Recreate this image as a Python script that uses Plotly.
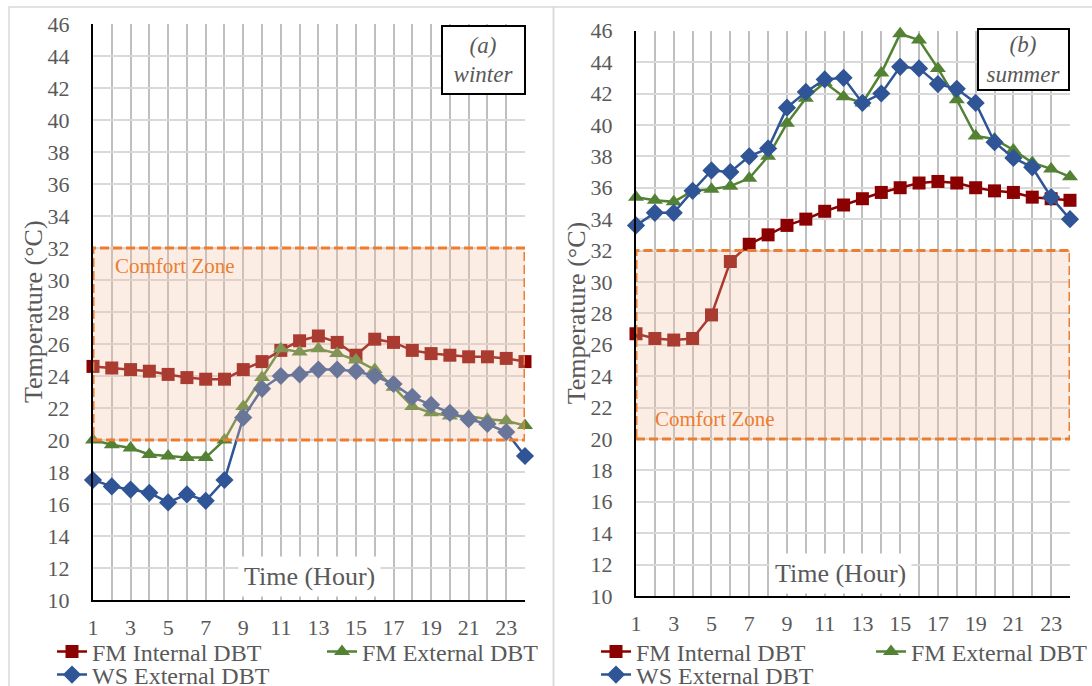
import plotly.graph_objects as go

# ---- data -------------------------------------------------------------
hours = list(range(1, 25))
x_tick_text = [str(h) if h % 2 else "" for h in hours]
y_ticks = list(range(10, 47, 2))

series_names = ["FM Internal DBT", "FM External DBT", "WS External DBT"]

winter_fm_internal = [24.6, 24.5, 24.4, 24.3, 24.1, 23.9, 23.8, 23.8, 24.4, 24.9,
                      25.6, 26.2, 26.5, 26.1, 25.3, 26.3, 26.1, 25.6, 25.4, 25.3,
                      25.2, 25.2, 25.1, 24.9]
winter_fm_external = [20.0, 19.7, 19.5, 19.1, 19.0, 18.9, 18.9, 20.0, 22.1, 23.9,
                      25.7, 25.5, 25.7, 25.4, 25.0, 24.4, 23.3, 22.1, 21.7, 21.5,
                      21.5, 21.3, 21.2, 20.9]
winter_ws_external = [17.5, 17.1, 16.9, 16.7, 16.1, 16.6, 16.2, 17.5, 21.4, 23.2,
                      24.0, 24.1, 24.4, 24.4, 24.3, 24.0, 23.5, 22.7, 22.2, 21.7,
                      21.3, 21.0, 20.5, 19.0]

summer_fm_internal = [26.7, 26.4, 26.3, 26.4, 27.9, 31.3, 32.4, 33.0, 33.6, 34.0,
                      34.5, 34.9, 35.3, 35.7, 36.0, 36.3, 36.4, 36.3, 36.0, 35.8,
                      35.7, 35.4, 35.3, 35.2]
summer_fm_external = [35.4, 35.2, 35.1, 35.8, 35.9, 36.1, 36.6, 38.0, 40.1, 41.7,
                      42.7, 41.8, 41.4, 43.3, 45.8, 45.4, 43.6, 41.6, 39.3, 39.1,
                      38.4, 37.6, 37.2, 36.7]
summer_ws_external = [33.6, 34.4, 34.4, 35.8, 37.1, 37.0, 38.0, 38.5, 41.1, 42.1,
                      42.9, 43.0, 41.4, 42.0, 43.7, 43.6, 42.6, 42.3, 41.4, 38.9,
                      37.9, 37.3, 35.4, 34.0]

comfort_low, comfort_high = 20, 32

# ---- styling ----------------------------------------------------------
W, H = 1092, 686
SERIF = "Times New Roman, Liberation Serif, serif"
GREY_TEXT = "#595959"
ORANGE = "#ED7D31"

styles = [
    dict(color="#8B0000", symbol="square", size=13),
    dict(color="#548235", symbol="triangle-up", size=14),
    dict(color="#2F5597", symbol="diamond", size=14),
]


def px(x):
    return x / W


def py(y):
    return 1 - y / H


panels = [
    dict(name="winter", tag="(a)", xa="x", ya="y",
         data=[winter_fm_internal, winter_fm_external, winter_ws_external],
         xdom=(93, 525), ydom=(600, 24),
         box=(441, 526, 25, 95), zone_label=(113, 266), time_label=(309, 576),
         ytitle_x=33, legend_x=(52, 322), legend_y=(652, 675), border=(9, 553.5)),
    dict(name="summer", tag="(b)", xa="x2", ya="y2",
         data=[summer_fm_internal, summer_fm_external, summer_ws_external],
         xdom=(636, 1070), ydom=(596, 30.7),
         box=(977, 1070, 28, 91), zone_label=(653, 419), time_label=(840, 573),
         ytitle_x=576, legend_x=(596, 871), legend_y=(652, 675), border=(553.5, 1100)),
]

fig = go.Figure()
layout = dict(
    width=W, height=H,
    margin=dict(l=0, r=0, t=0, b=0, autoexpand=False),
    paper_bgcolor="white", plot_bgcolor="white",
    font=dict(family=SERIF, color=GREY_TEXT),
    showlegend=True,
    shapes=[], annotations=[],
)

legend_idx = 0
for p_i, p in enumerate(panels):
    suffix = "" if p_i == 0 else str(p_i + 1)
    # legend slots: two on the first row, one on the second
    slots = [(p["legend_x"][0], p["legend_y"][0]),
             (p["legend_x"][1], p["legend_y"][0]),
             (p["legend_x"][0], p["legend_y"][1])]
    for s_i, (name, vals, st) in enumerate(zip(series_names, p["data"], styles)):
        legend_idx += 1
        lkey = "legend" if legend_idx == 1 else f"legend{legend_idx}"
        fig.add_trace(go.Scatter(
            x=hours, y=vals, name=name, mode="lines+markers",
            line=dict(color=st["color"], width=2.5),
            marker=dict(symbol=st["symbol"], size=st["size"], color=st["color"]),
            cliponaxis=False, xaxis=p["xa"], yaxis=p["ya"], legend=lkey,
            showlegend=True,
        ))
        lx, ly = slots[s_i]
        layout[lkey] = dict(
            x=px(lx), y=py(ly), xanchor="left", yanchor="middle",
            orientation="h", bgcolor="rgba(0,0,0,0)", visible=True,
            font=dict(family=SERIF, size=24, color=GREY_TEXT),
        )

    layout["xaxis" + suffix] = dict(
        domain=[px(p["xdom"][0]), px(p["xdom"][1])], range=[1, 24],
        anchor="y" + suffix, tickvals=hours, ticktext=x_tick_text,
        showgrid=True, gridcolor="#BFBFBF", gridwidth=1.5, zeroline=False,
        showline=True, linecolor="black", linewidth=2, automargin=False,
        ticks="outside", ticklen=7, tickcolor="rgba(0,0,0,0)",
        tickfont=dict(family=SERIF, size=22, color=GREY_TEXT), fixedrange=True,
    )
    layout["yaxis" + suffix] = dict(
        domain=[py(p["ydom"][0]), py(p["ydom"][1])], range=[10, 46],
        anchor="x" + suffix, tickvals=y_ticks,
        showgrid=True, gridcolor="#D9D9D9", gridwidth=1.5, zeroline=False,
        showline=True, linecolor="black", linewidth=2, automargin=False,
        ticks="outside", ticklen=17, tickcolor="rgba(0,0,0,0)",
        tickfont=dict(family=SERIF, size=22, color=GREY_TEXT), fixedrange=True,
    )

    # comfort zone band, drawn over the series with a translucent fill
    layout["shapes"].append(dict(
        type="rect", xref=p["xa"], yref=p["ya"], layer="above",
        x0=1, x1=24, y0=comfort_low, y1=comfort_high,
        fillcolor="rgba(242,196,163,0.3)",
        line=dict(color=ORANGE, width=3, dash="9px,4px"),
    ))
    # chart-area frame
    b0, b1 = p["border"]
    layout["shapes"].append(dict(
        type="rect", xref="paper", yref="paper", layer="below",
        x0=px(b0), x1=px(b1), y0=py(7), y1=py(720),
        line=dict(color="#D9D9D9", width=1.5), fillcolor="rgba(0,0,0,0)",
    ))

    bx0, bx1, by0, by1 = p["box"]
    layout["annotations"] += [
        dict(xref="paper", yref="paper", x=px((bx0 + bx1) / 2), y=py((by0 + by1) / 2),
             xanchor="center", yanchor="middle", showarrow=False,
             text=f"<i>{p['tag']}</i><br><i>{p['name']}</i>",
             font=dict(family=SERIF, size=23, color=GREY_TEXT),
             bgcolor="white", bordercolor="black", borderwidth=2, borderpad=0,
             width=bx1 - bx0 - 4, height=by1 - by0 - 4),
        dict(xref="paper", yref="paper", x=px(p["zone_label"][0]), y=py(p["zone_label"][1]),
             xanchor="left", yanchor="middle", showarrow=False, text="Comfort Zone",
             font=dict(family=SERIF, size=21, color=ORANGE)),
        dict(xref="paper", yref="paper", x=px(p["time_label"][0]), y=py(p["time_label"][1]),
             xanchor="center", yanchor="middle", showarrow=False, text="Time (Hour)",
             font=dict(family=SERIF, size=26, color=GREY_TEXT),
             bgcolor="white", borderpad=5),
        dict(xref="paper", yref="paper", x=px(p["ytitle_x"]),
             y=py((p["ydom"][0] + p["ydom"][1]) / 2),
             xanchor="center", yanchor="middle", showarrow=False, textangle=-90,
             text="Temperature (°C)", font=dict(family=SERIF, size=26, color=GREY_TEXT)),
    ]

fig.update_layout(**layout)
fig.write_html("out.html")
